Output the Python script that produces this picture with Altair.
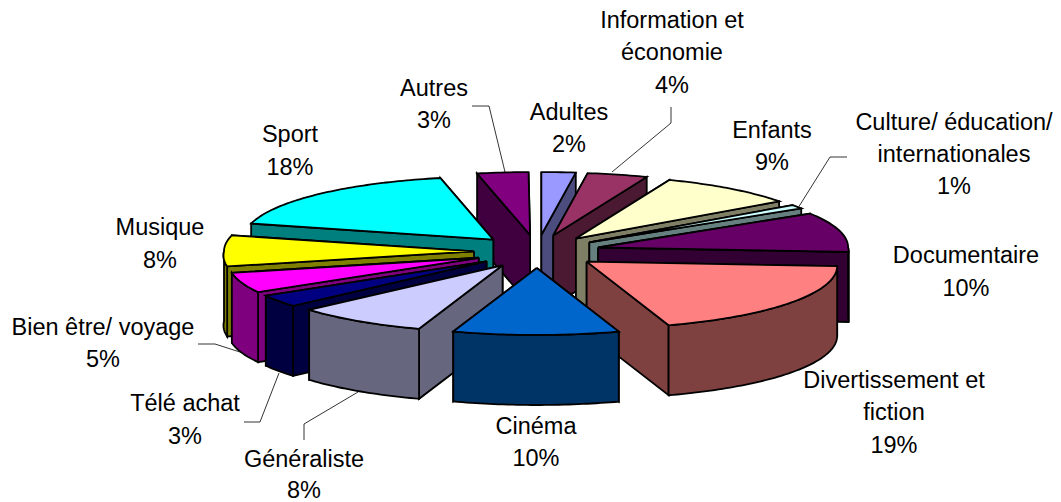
import math
import altair as alt
import pandas as pd

# --- data -----------------------------------------------------------------
categories = ["Adultes", "Information et économie", "Enfants",
              "Culture/ éducation/ internationales", "Documentaire",
              "Divertissement et fiction", "Cinéma", "Généraliste", "Télé achat",
              "Bien être/ voyage", "Musique", "Sport", "Autres"]
percent = [2.2, 3.9, 9, 1, 10, 18.9, 10.1, 8.2, 3, 5, 7.7, 17.6, 3.3]
top_colors = ["#9999FF", "#993366", "#FFFFCC", "#CCFFFF", "#660066", "#FF8080", "#0066CC",
              "#CCCCFF", "#000080", "#FF00FF", "#FFFF00", "#00FFFF", "#800080"]
wall_colors = ["#4C4C7F", "#4C1933", "#7F7F66", "#667F7F", "#330033", "#7F4040", "#003366",
               "#66667F", "#000040", "#7F007F", "#7F7F00", "#007F7F", "#400040"]
paint_order = ["Autres", "Adultes", "Information et économie", "Sport", "Enfants",
               "Culture/ éducation/ internationales", "Documentaire", "Musique",
               "Bien être/ voyage", "Télé achat", "Généraliste",
               "Divertissement et fiction", "Cinéma"]

# --- text layout ----------------------------------------------------------
label_text = ["Information et", "économie", "4%", "Autres", "3%", "Adultes", "2%", "Sport", "18%",
              "Enfants", "9%", "Culture/ éducation/", "internationales", "1%", "Documentaire", "10%",
              "Musique", "8%", "Bien être/ voyage", "5%", "Divertissement et", "fiction", "19%",
              "Cinéma", "10%", "Télé achat", "3%", "Généraliste", "8%"]
label_x = [672, 672, 672, 434, 434, 569, 569, 290, 290, 772, 772, 954, 954, 954, 966, 966,
           160, 160, 103, 103, 894, 894, 894, 536, 536, 185, 185, 304, 304]
label_y = [21, 53, 86, 89, 121, 113, 145, 135, 168, 131, 163, 123, 155, 187, 256, 289,
           228, 261, 328, 360, 381, 413, 446, 427, 459, 404, 437, 460, 491]
leaders = [[(472, 106), (489, 106), (505, 172)],
           [(671, 107), (671, 123), (612, 172)],
           [(847, 157), (830, 157), (798, 208)],
           [(198, 344), (215, 344), (243, 353)],
           [(244, 422), (260, 422), (279, 373)],
           [(304, 440), (304, 424), (358, 392)]]

# --- projection of the tilted pie -----------------------------------------
CX, CY = 537, 251.5
EX, EY = 63, 16.5
RX, RY = 250, 65
DEPTH = 70

def pt(ax, ay, deg, z=0):
    r = math.radians(deg)
    c = math.cos(r)
    rx = RX + 16 * max(0, -c)      # nearer edge is drawn a little wider
    ry = RY - 2 * c
    return ax + rx * math.sin(r), ay - ry * c + z

rows = []
face = 0
def add(poly, color):
    global face
    for i, (x, y) in enumerate(list(poly) + [poly[0]]):
        rows.append({"x": x, "y": y, "i": i, "face": face, "fill": color})
    face += 1

start = {}
cum = 0
for name, p in zip(categories, percent):
    start[name] = cum
    cum += p

for name in paint_order:
    k = categories.index(name)
    a0 = start[name] * 3.6
    a1 = (start[name] + percent[k]) * 3.6
    mid = math.radians((a0 + a1) / 2)
    ax = CX + EX * math.sin(mid)
    ay = CY - EY * math.cos(mid)
    n = max(3, int(a1 - a0))
    arc = [a0 + (a1 - a0) * j / n for j in range(n + 1)]
    top = [(ax, ay)] + [pt(ax, ay, d) for d in arc]
    M = pt(ax, ay, (a0 + a1) / 2)
    hidden, shown = [], []
    for d in (a0, a1):
        P = pt(ax, ay, d)
        wall = [(ax, ay), P, (P[0], P[1] + DEPTH), (ax, ay + DEPTH)]
        dx = P[0] - ax
        vis = abs(dx) > 1e-6 and M[1] < ay + (P[1] - ay) * (M[0] - ax) / dx
        (shown if vis else hidden).append(wall)
    for w in hidden + shown:
        add(w, wall_colors[k])
    f0, f1 = max(a0, 90), min(a1, 270)
    if f1 > f0:
        m = max(2, int(f1 - f0))
        fa = [f0 + (f1 - f0) * j / m for j in range(m + 1)]
        add([pt(ax, ay, d) for d in fa] + [pt(ax, ay, d, DEPTH) for d in reversed(fa)], wall_colors[k])
    add(top, top_colors[k])

df = pd.DataFrame(rows)
xs = alt.Scale(domain=[8, 1053])
ys = alt.Scale(domain=[494, 8])
X = alt.X("x:Q", scale=xs, axis=None)
Y = alt.Y("y:Q", scale=ys, axis=None)

faces = alt.Chart(df).mark_line(stroke="black", strokeWidth=1.8, strokeJoin="miter", interpolate="linear").encode(
    x=X, y=Y, order=alt.Order("i:Q"), detail="face:N",
    fill=alt.Fill("fill:N", scale=None))

lead_rows = [{"x": x, "y": y, "i": i, "id": n}
             for n, line in enumerate(leaders) for i, (x, y) in enumerate(line)]
lead = alt.Chart(pd.DataFrame(lead_rows)).mark_line(stroke="black", strokeWidth=0.8).encode(
    x=X, y=Y, order=alt.Order("i:Q"), detail="id:N")

labels = alt.Chart(pd.DataFrame({"x": label_x, "y": label_y, "t": label_text})).mark_text(
    font="Liberation Sans", fontSize=23.5, color="black", baseline="middle", align="center").encode(
    x=X, y=Y, text="t:N")

chart = alt.layer(lead, faces, labels).properties(
    width=1045, height=486, padding=0, background="white"
).configure_view(stroke=None)
chart.save("out.html", embed_options={"renderer": "svg", "actions": False})
